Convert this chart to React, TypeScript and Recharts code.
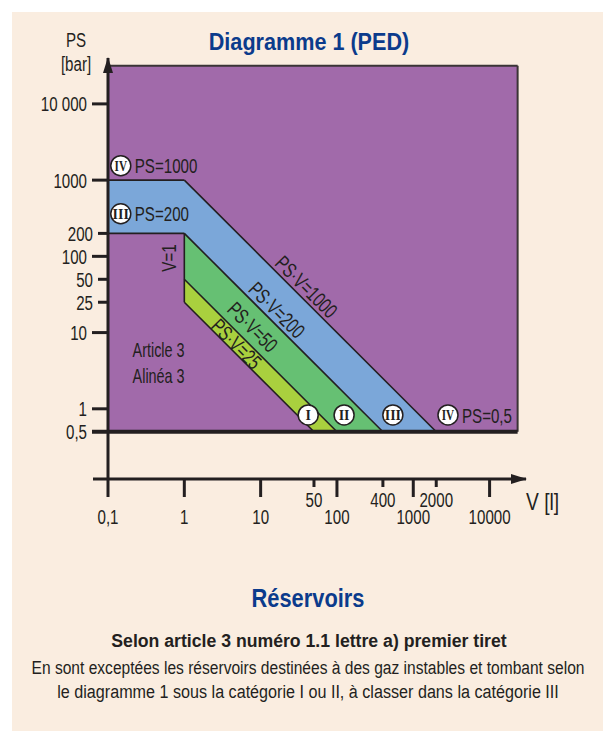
import { ComposedChart, Area, XAxis, YAxis, ReferenceLine, ReferenceDot } from "recharts";

const FONT = "'Liberation Sans', Arial, sans-serif";
const INK = "#231f20";
const TITLE_BLUE = "#0b3b8c";
const PANEL = "#faede0";
const SX = 0.72; // squeeze to mimic the condensed face

// axis ticks (V in litres, PS in bar)
const xTicks = [0.1, 1, 10, 50, 100, 400, 1000, 2000, 10000];
const xTickLabels = ["0,1", "1", "10", "50", "100", "400", "1000", "2000", "10000"];
const xMinorTicks = [50, 400, 2000];
const yTicks = [0.5, 1, 10, 25, 50, 100, 200, 1000, 10000];
const yTickLabels = ["0,5", "1", "10", "25", "50", "100", "200", "1000", "10 000"];
const yMinorTicks = [25, 50, 200];

// category bands: [low PS, high PS] at each V
const catIV = [
  { v: 0.1, ps: [0.5, 31600] },
  { v: 23300, ps: [0.5, 31600] },
];
const catIII = [
  { v: 0.1, ps: [200, 1000] },
  { v: 1, ps: [200, 1000] },
  { v: 400, ps: [0.5, 2.5] },
  { v: 2000, ps: [0.5, 0.5] },
];
const catII = [
  { v: 1, ps: [50, 200] },
  { v: 100, ps: [0.5, 2] },
  { v: 400, ps: [0.5, 0.5] },
];
const catI = [
  { v: 1, ps: [25, 50] },
  { v: 50, ps: [0.5, 1] },
  { v: 100, ps: [0.5, 0.5] },
];

// limit lines [V, PS] -> [V, PS]
const limits = [
  [[0.1, 1000], [1, 1000]],
  [[1, 1000], [2000, 0.5]],
  [[0.1, 200], [1, 200]],
  [[1, 200], [400, 0.5]],
  [[1, 200], [1, 25]],
  [[1, 50], [100, 0.5]],
  [[1, 25], [50, 0.5]],
];
const frame = [
  [[0.1, 31600], [23300, 31600]],
  [[23300, 31600], [23300, 0.5]],
];

const lineLabels = [
  { v: 40, ps: 40, text: "PS·V=1000", angle: 45 },
  { v: 16.4, ps: 19.9, text: "PS·V=200", angle: 45 },
  { v: 7.9, ps: 11.9, text: "PS·V=50", angle: 45 },
  { v: 4.84, ps: 7.13, text: "PS·V=25", angle: 45 },
  { v: 0.61, ps: 95, text: "V=1", angle: -90 },
];

const categoryMarks = [
  { v: 0.147, ps: 1545, num: "IV", text: "PS=1000" },
  { v: 0.147, ps: 362, num: "III", text: "PS=200" },
  { v: 42, ps: 0.83, num: "I", text: "" },
  { v: 124, ps: 0.83, num: "II", text: "" },
  { v: 540, ps: 0.83, num: "III", text: "" },
  { v: 2850, ps: 0.83, num: "IV", text: "PS=0,5" },
];

function NText({ x, y, size = 21, anchor = "middle", rotate = 0, dy, sx = SX, weight, fill = INK, children }: any) {
  return (
    <text
      transform={`translate(${x} ${y}) rotate(${rotate}) scale(${sx} 1)`}
      dy={dy}
      textAnchor={anchor}
      fill={fill}
      fontFamily={FONT}
      fontSize={size}
      fontWeight={weight}
    >
      {children}
    </text>
  );
}

function XTick({ x, y, payload }: any) {
  const v = payload.value;
  const minor = xMinorTicks.includes(v);
  return (
    <g>
      <line x1={x} y1={y} x2={x} y2={y + (minor ? 8 : 18)} stroke={INK} strokeWidth={3} />
      {v === 0.1 && <line x1={x - 15} y1={y} x2={x} y2={y} stroke={INK} strokeWidth={3} />}
      <NText x={x} y={y + (minor ? 28 : 45)}>{xTickLabels[xTicks.indexOf(v)]}</NText>
    </g>
  );
}

function YTick({ x, y, payload }: any) {
  const v = payload.value;
  const len = yMinorTicks.includes(v) ? 10 : 16;
  return (
    <g>
      <line x1={x - len} y1={y} x2={x} y2={y} stroke={INK} strokeWidth={v === 0.5 ? 4 : 3} />
      <NText x={x - len - 5} y={y} dy="0.36em" anchor="end">{yTickLabels[yTicks.indexOf(v)]}</NText>
    </g>
  );
}

export default function App() {
  return (
    <div style={{ position: "absolute", left: 0, top: 0, width: 603, height: 731, background: "#fff", overflow: "hidden" }}>
      <div style={{ position: "absolute", left: 12, top: 12, width: 591, height: 719, background: PANEL }} />
      <div style={{ position: "absolute", left: 0, top: 0 }}>
        <ComposedChart width={603} height={731} margin={{ top: 58, right: 77, bottom: 222, left: 48 }}>
          <XAxis
            type="number"
            dataKey="v"
            scale="log"
            domain={[0.1, 30000]}
            allowDataOverflow
            ticks={xTicks}
            interval={0}
            height={30}
            tickSize={0}
            tickMargin={0}
            tickLine={false}
            axisLine={{ stroke: INK, strokeWidth: 3 }}
            tick={<XTick />}
          />
          <YAxis
            type="number"
            scale="log"
            domain={[0.12, 40000]}
            allowDataOverflow
            ticks={yTicks}
            interval={0}
            width={60}
            tickSize={0}
            tickMargin={0}
            tickLine={false}
            axisLine={{ stroke: INK, strokeWidth: 3 }}
            tick={<YTick />}
          />
          <Area data={catIV} dataKey="ps" type="linear" stroke="none" fill="#a16aaa" fillOpacity={1} isAnimationActive={false} dot={false} activeDot={false} />
          <Area data={catIII} dataKey="ps" type="linear" stroke="none" fill="#7ba7d9" fillOpacity={1} isAnimationActive={false} dot={false} activeDot={false} />
          <Area data={catII} dataKey="ps" type="linear" stroke="none" fill="#66c073" fillOpacity={1} isAnimationActive={false} dot={false} activeDot={false} />
          <Area data={catI} dataKey="ps" type="linear" stroke="none" fill="#a9d03e" fillOpacity={1} isAnimationActive={false} dot={false} activeDot={false} />
          {frame.map((s, i) => (
            <ReferenceLine key={"f" + i} segment={[{ x: s[0][0], y: s[0][1] }, { x: s[1][0], y: s[1][1] }]} stroke="#3a3436" strokeWidth={2} ifOverflow="visible" />
          ))}
          {limits.map((s, i) => (
            <ReferenceLine key={"l" + i} segment={[{ x: s[0][0], y: s[0][1] }, { x: s[1][0], y: s[1][1] }]} stroke={INK} strokeWidth={1.6} ifOverflow="visible" />
          ))}
          <ReferenceLine segment={[{ x: 0.1, y: 0.5 }, { x: 23300, y: 0.5 }]} stroke={INK} strokeWidth={4} ifOverflow="visible" />
          {lineLabels.map((l, i) => (
            <ReferenceDot
              key={"t" + i}
              x={l.v}
              y={l.ps}
              r={1}
              ifOverflow="visible"
              shape={(p: any) => (
                <NText x={p.cx} y={p.cy} dy="0.36em" rotate={l.angle}>{l.text}</NText>
              )}
            />
          ))}
          {categoryMarks.map((m, i) => (
            <ReferenceDot
              key={"c" + i}
              x={m.v}
              y={m.ps}
              r={10}
              ifOverflow="visible"
              shape={(p: any) => (
                <g>
                  <circle cx={p.cx} cy={p.cy} r={10} fill="#fff" stroke={INK} strokeWidth={1.5} />
                  <text
                    transform={`translate(${p.cx} ${p.cy}) scale(${m.num === "IV" ? 0.8 : 1} 1.1)`}
                    dy="0.35em"
                    textAnchor="middle"
                    fill={INK}
                    fontFamily="'Liberation Serif', serif"
                    fontWeight="bold"
                    fontSize={14}
                  >
                    {m.num}
                  </text>
                  {m.text && <NText x={p.cx + 14} y={p.cy} dy="0.36em" anchor="start">{m.text}</NText>}
                </g>
              )}
            />
          ))}
          <ReferenceDot
            x={0.21}
            y={4.8}
            r={1}
            ifOverflow="visible"
            shape={(p: any) => (
              <g>
                <NText x={p.cx} y={p.cy} size={20} anchor="start">Article 3</NText>
                <NText x={p.cx} y={p.cy + 26} size={20} anchor="start">Alinéa 3</NText>
              </g>
            )}
          />
          <ReferenceDot
            x={30000}
            y={0.12}
            r={1}
            ifOverflow="visible"
            shape={(p: any) => (
              <polygon points={`${p.cx + 1},${p.cy} ${p.cx - 15},${p.cy - 5} ${p.cx - 15},${p.cy + 5}`} fill={INK} />
            )}
          />
          <ReferenceDot
            x={0.1}
            y={40000}
            r={1}
            ifOverflow="visible"
            shape={(p: any) => (
              <polygon points={`${p.cx},${p.cy - 1} ${p.cx - 5},${p.cy + 15} ${p.cx + 5},${p.cy + 15}`} fill={INK} />
            )}
          />
        </ComposedChart>
      </div>
      <svg width={603} height={731} style={{ position: "absolute", left: 0, top: 0, pointerEvents: "none" }}>
        <NText x={309} y={50} size={24} sx={0.9} weight="bold" fill={TITLE_BLUE}>Diagramme 1 (PED)</NText>
        <NText x={76} y={47}>PS</NText>
        <NText x={76} y={71}>[bar]</NText>
        <NText x={526} y={510} size={24} sx={0.8} anchor="start">V [l]</NText>
        <NText x={308} y={607} size={26} sx={0.84} weight="bold" fill={TITLE_BLUE}>Réservoirs</NText>
        <NText x={309} y={647} size={19} sx={0.93} weight="bold">Selon article 3 numéro 1.1 lettre a) premier tiret</NText>
        <NText x={308} y={674} size={19} sx={0.82}>En sont exceptées les réservoirs destinées à des gaz instables et tombant selon</NText>
        <NText x={308} y={698} size={19} sx={0.85}>le diagramme 1 sous la catégorie I ou II, à classer dans la catégorie III</NText>
      </svg>
    </div>
  );
}
